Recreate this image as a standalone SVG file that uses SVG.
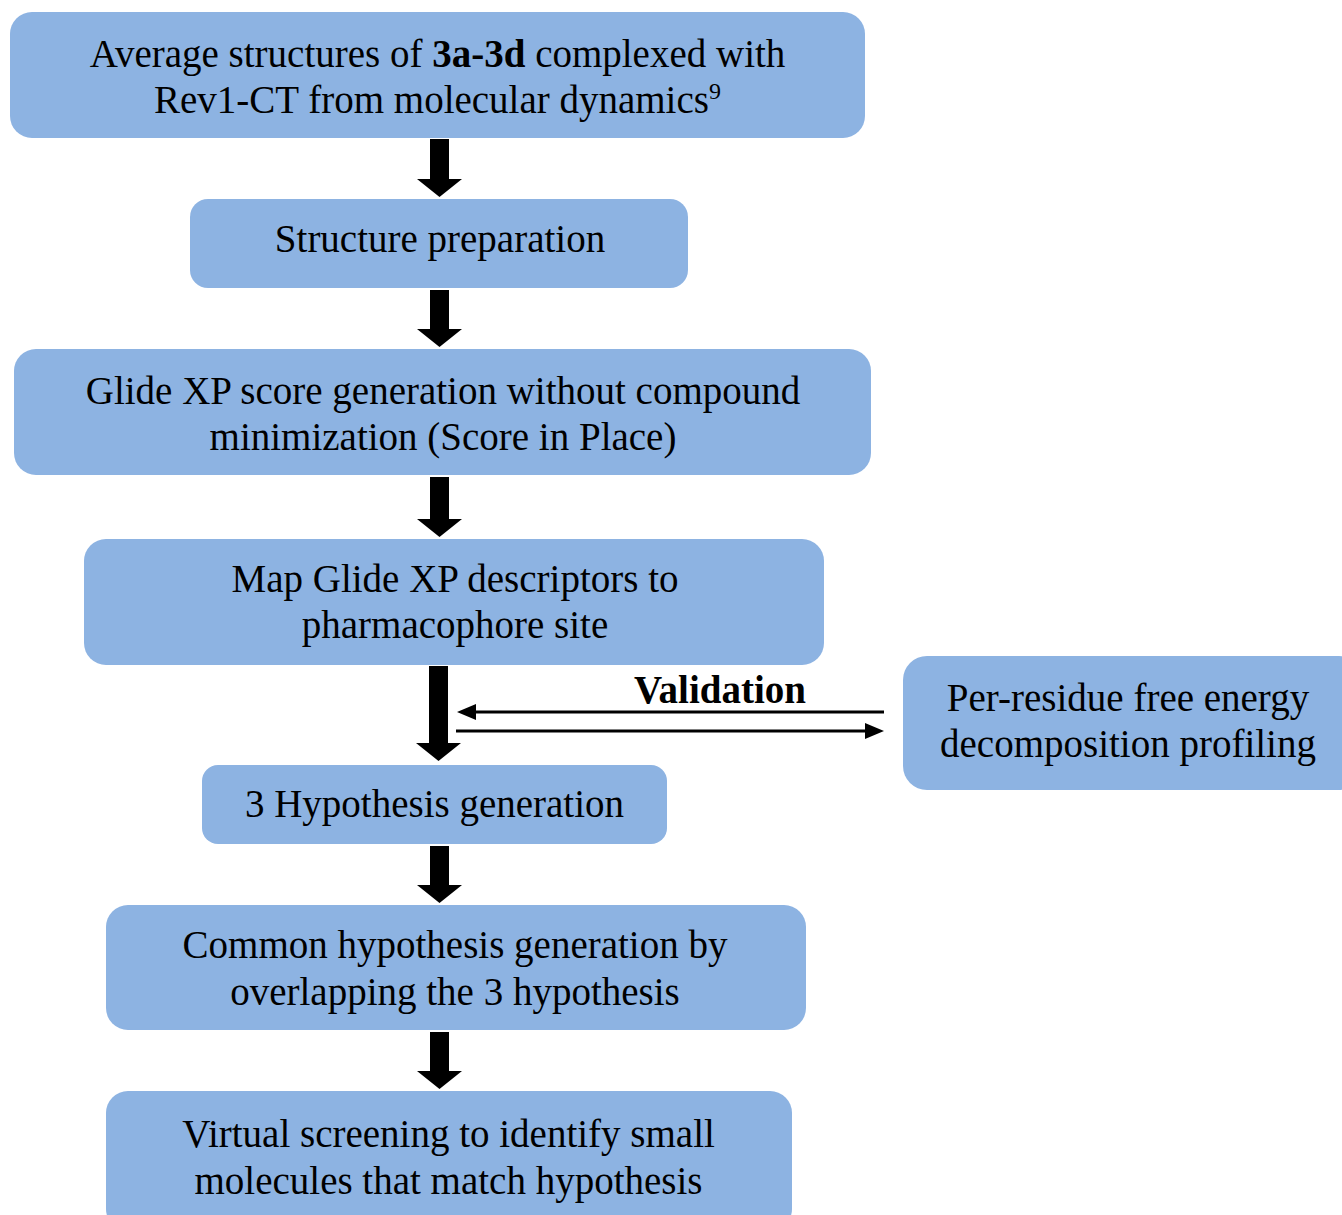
<svg xmlns="http://www.w3.org/2000/svg" width="1342" height="1215" viewBox="0 0 1342 1215">
<style>
.box{fill:#8DB3E2;}
.t{font-family:"Liberation Serif","Times New Roman",serif;font-size:39px;fill:#000;text-anchor:middle;}
.b{font-weight:bold;}
.thick{fill:#000;}
.thin{stroke:#000;stroke-width:3;fill:none;}
</style>
<rect width="1342" height="1215" fill="#fff"/>
<g id="node-md">
<rect class="box" x="10" y="12" width="855" height="126" rx="22"/>
<text class="t" x="437.5" y="67">Average structures of <tspan class="b">3a-3d</tspan> complexed with</text>
<text class="t" x="437.5" y="113">Rev1-CT from molecular dynamics<tspan font-size="24" dy="-14">9</tspan></text>
</g>
<g id="node-prep">
<rect class="box" x="190" y="199" width="498" height="89" rx="18"/>
<text class="t" x="440" y="252">Structure preparation</text>
</g>
<g id="node-glide">
<rect class="box" x="14" y="349" width="857" height="126" rx="22"/>
<text class="t" x="443" y="404">Glide XP score generation without compound</text>
<text class="t" x="443" y="450">minimization (Score in Place)</text>
</g>
<g id="node-map">
<rect class="box" x="84" y="539" width="740" height="126" rx="22"/>
<text class="t" x="455" y="592">Map Glide XP descriptors to</text>
<text class="t" x="455" y="638">pharmacophore site</text>
</g>
<g id="node-perres">
<rect class="box" x="903" y="656" width="460" height="134" rx="24"/>
<text class="t" x="1128" y="711">Per-residue free energy</text>
<text class="t" x="1128" y="757">decomposition profiling</text>
</g>
<g id="node-hyp">
<rect class="box" x="202" y="765" width="465" height="79" rx="16"/>
<text class="t" x="434.5" y="817">3 Hypothesis generation</text>
</g>
<g id="node-common">
<rect class="box" x="106" y="905" width="700" height="125" rx="22"/>
<text class="t" x="455" y="958">Common hypothesis generation by</text>
<text class="t" x="455" y="1005">overlapping the 3 hypothesis</text>
</g>
<g id="node-vs">
<rect class="box" x="106" y="1091" width="686" height="140" rx="22"/>
<text class="t" x="448.5" y="1147">Virtual screening to identify small</text>
<text class="t" x="448.5" y="1194">molecules that match hypothesis</text>
</g>
<g id="connectors">
<polygon class="thick" points="430,139 449,139 449,179 462,179 439.5,197 417,179 430,179"/>
<polygon class="thick" points="430,290 449,290 449,329 462,329 439.5,347 417,329 430,329"/>
<polygon class="thick" points="430,477 449,477 449,519 462,519 439.5,537 417,519 430,519"/>
<polygon class="thick" points="429,666 448,666 448,743 461,743 438.5,761 416,743 429,743"/>
<polygon class="thick" points="430,846 449,846 449,885 462,885 439.5,903 417,885 430,885"/>
<polygon class="thick" points="430,1032 449,1032 449,1071 462,1071 439.5,1089 417,1071 430,1071"/>
<line class="thin" x1="884" y1="712" x2="474" y2="712"/>
<polygon class="thick" points="457,712 476,704 476,720"/>
<line class="thin" x1="456" y1="731" x2="867" y2="731"/>
<polygon class="thick" points="884,731 865,723 865,739"/>
<text class="t b" x="720" y="703" font-size="38">Validation</text>
</g>
</svg>
